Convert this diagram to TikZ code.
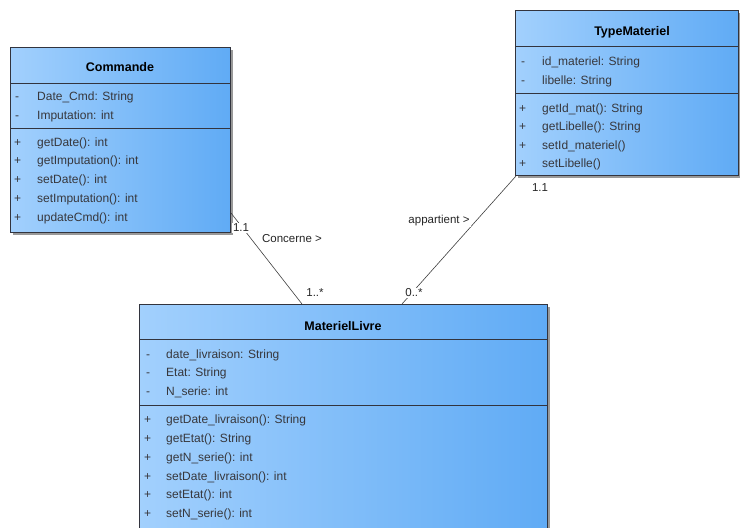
\documentclass[tikz,border=0pt]{standalone}
\usepackage{fontspec}
\setmainfont{Liberation Sans}
\definecolor{boxleft}{RGB}{162,208,253}
\definecolor{boxright}{RGB}{96,171,245}
\definecolor{boxline}{RGB}{50,52,62}
\definecolor{txt}{RGB}{55,55,60}
\begin{document}
\begin{tikzpicture}[x=1pt,y=-1pt,
  classbox/.style={draw=boxline, line width=0.9pt, left color=boxleft, right color=boxright, anchor=north west, inner sep=0pt, outer sep=0pt},
  shadowbox/.style={fill=black!40, draw=none},
  sep/.style={draw=boxline, line width=0.9pt},
  title/.style={font=\fontsize{12.5}{14}\selectfont\bfseries, text=black},
  member/.style={font=\fontsize{12}{14}\selectfont, text=txt, anchor=west, inner sep=0pt, text height=8.6pt, text depth=2.6pt},
  vis/.style={member},
  assoc/.style={draw=black!75, line width=0.6pt},
  lbl/.style={font=\fontsize{11.5}{13}\selectfont, text=black!85, fill=white, inner sep=1pt}
]
\useasboundingbox (0,0) rectangle (740,528);
\clip (0,0) rectangle (740,528);
\fill[white] (0,0) rectangle (740,528);

% ---------- Commande ----------
\fill[shadowbox] (13,50) rectangle (233,235);
\node[classbox, minimum width=220pt, minimum height=185pt] (cmd) at (10,47) {};
\draw[sep] (10,83) -- (230,83);
\draw[sep] (10,128) -- (230,128);
\node[title] (cmdT) at (120,67) {Commande};
\node[vis] (cv1) at (15,97) {-};
\node[member] (cm1) at (37,97) {Date\_Cmd: String};
\node[vis] (cv2) at (15,116) {-};
\node[member] (cm2) at (37,116) {Imputation: int};
\node[vis] (cv3) at (14,143) {+};
\node[member] (cm3) at (37,143) {getDate(): int};
\node[vis] (cv4) at (14,161) {+};
\node[member] (cm4) at (37,161) {getImputation(): int};
\node[vis] (cv5) at (14,180) {+};
\node[member] (cm5) at (37,180) {setDate(): int};
\node[vis] (cv6) at (14,199) {+};
\node[member] (cm6) at (37,199) {setImputation(): int};
\node[vis] (cv7) at (14,218) {+};
\node[member] (cm7) at (37,218) {updateCmd(): int};

% ---------- TypeMateriel ----------
\fill[shadowbox] (518,13) rectangle (741,178);
\node[classbox, minimum width=223pt, minimum height=165pt] (tm) at (515,10) {};
\draw[sep] (515,46) -- (738,46);
\draw[sep] (515,93) -- (738,93);
\node[title] (tmT) at (632,32) {TypeMateriel};
\node[vis] (tv1) at (521,62) {-};
\node[member] (tm1) at (542,62) {id\_materiel: String};
\node[vis] (tv2) at (521,81) {-};
\node[member] (tm2) at (542,81) {libelle: String};
\node[vis] (tv3) at (519,109) {+};
\node[member] (tm3) at (542,109) {getId\_mat(): String};
\node[vis] (tv4) at (519,127) {+};
\node[member] (tm4) at (542,127) {getLibelle(): String};
\node[vis] (tv5) at (519,146) {+};
\node[member] (tm5) at (542,146) {setId\_materiel()};
\node[vis] (tv6) at (519,164) {+};
\node[member] (tm6) at (542,164) {setLibelle()};

% ---------- MaterielLivre ----------
\fill[shadowbox] (142,307) rectangle (550,545);
\node[classbox, minimum width=408pt, minimum height=236pt] (ml) at (139,304) {};
\draw[sep] (139,339) -- (547,339);
\draw[sep] (139,405) -- (547,405);
\node[title] (mlT) at (343,326) {MaterielLivre};
\node[vis] (mv1) at (146,355) {-};
\node[member] (mm1) at (166,355) {date\_livraison: String};
\node[vis] (mv2) at (146,373) {-};
\node[member] (mm2) at (166,373) {Etat: String};
\node[vis] (mv3) at (146,392) {-};
\node[member] (mm3) at (166,392) {N\_serie: int};
\node[vis] (mv4) at (144,420) {+};
\node[member] (mm4) at (166,420) {getDate\_livraison(): String};
\node[vis] (mv5) at (144,439) {+};
\node[member] (mm5) at (166,439) {getEtat(): String};
\node[vis] (mv6) at (144,458) {+};
\node[member] (mm6) at (166,458) {getN\_serie(): int};
\node[vis] (mv7) at (144,477) {+};
\node[member] (mm7) at (166,477) {setDate\_livraison(): int};
\node[vis] (mv8) at (144,495) {+};
\node[member] (mm8) at (166,495) {setEtat(): int};
\node[vis] (mv9) at (144,514) {+};
\node[member] (mm9) at (166,514) {setN\_serie(): int};

% ---------- associations ----------
\coordinate (a1) at (231,213);
\coordinate (a2) at (302,304);
\coordinate (b1) at (516,176);
\coordinate (b2) at (402,304);
\draw[assoc] (a1) -- (a2);
\draw[assoc] (b1) -- (b2);

\node[lbl] (l1) at (241,228) {1.1};
\node[lbl] (l2) at (292,239) {Concerne >};
\node[lbl] (l3) at (315,293) {1..*};
\node[lbl] (l4) at (414,293) {0..*};
\node[lbl] (l5) at (439,221) {appartient >};
\node[lbl] (l6) at (540,188) {1.1};
\end{tikzpicture}
\end{document}
